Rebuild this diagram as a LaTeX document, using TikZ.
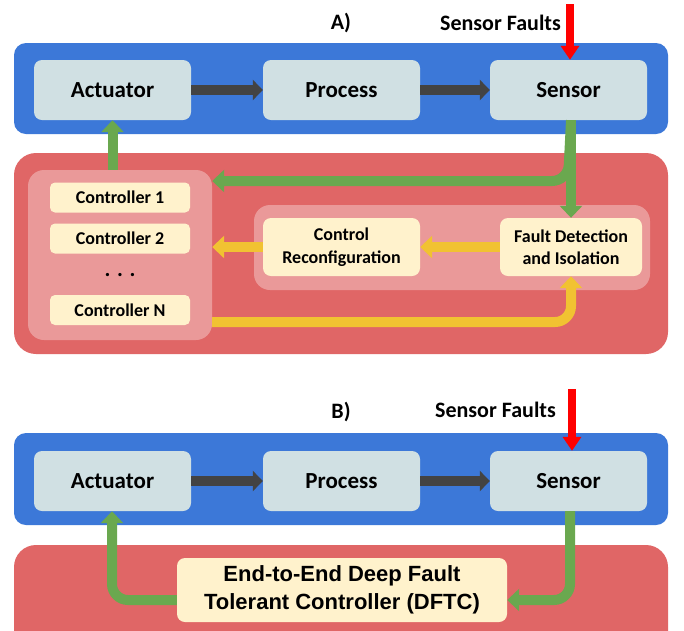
\documentclass[tikz,border=0pt]{standalone}
\usepackage{fontspec}
\setmainfont{Carlito}
\newfontfamily\arialfont{Liberation Sans}
\usetikzlibrary{arrows.meta}
\definecolor{panelblue}{HTML}{3C78D8}
\definecolor{panelred}{HTML}{E06666}
\definecolor{grouppink}{HTML}{EA9999}
\definecolor{boxgray}{HTML}{D0E0E3}
\definecolor{boxyellow}{HTML}{FFF2CC}
\definecolor{arrgreen}{HTML}{6AA84F}
\definecolor{arryellow}{HTML}{F1C232}
\definecolor{arrdark}{HTML}{434343}
\definecolor{arrred}{HTML}{FF0000}
\begin{document}
\begin{tikzpicture}[x=1pt,y=-1pt,
  bluepanel/.style={fill=panelblue, draw=none, rounded corners=12pt, minimum width=654pt, inner sep=0pt},
  redpanel/.style={fill=panelred, draw=none, rounded corners=22pt, minimum width=654pt, inner sep=0pt},
  grp/.style={fill=grouppink, draw=none, rounded corners=16pt, inner sep=0pt},
  procbox/.style={fill=boxgray, draw=none, rounded corners=8pt, minimum width=157pt, minimum height=60pt,
    font=\bfseries\fontsize{23}{25}\selectfont, inner sep=0pt},
  ctrlbox/.style={fill=boxyellow, draw=none, rounded corners=5pt, minimum width=140pt, minimum height=30pt,
    font=\bfseries\fontsize{18}{20}\selectfont, inner sep=0pt},
  ybox/.style={fill=boxyellow, draw=none, rounded corners=8pt, minimum height=58pt,
    font=\bfseries\fontsize{18}{22.5}\selectfont, align=center, inner sep=0pt},
  title/.style={font=\bfseries\fontsize{22}{24}\selectfont, inner sep=0pt},
  darrow/.style={draw=arrdark, line width=10pt, -{Triangle[width=20pt,length=10pt]}},
  garrow/.style={draw=arrgreen, line width=10pt, -{Triangle[width=22pt,length=12pt]}},
  yarrow/.style={draw=arryellow, line width=10pt, -{Triangle[width=22pt,length=12pt]}},
  rarrow/.style={draw=arrred, line width=8pt, -{Triangle[width=18pt,length=14pt]}},
]
\useasboundingbox (0,0) rectangle (684,630);
\fill[white] (0,0) rectangle (684,630);

% ---------------- Part A ----------------
\node[title] (labA) at (341,23) {A)};
\node[title, anchor=east] (sfA) at (561,23) {Sensor Faults};
\node[bluepanel, minimum height=91pt] (bpA) at (341,88.5) {};
\node[procbox] (actA) at (112.5,90) {Actuator};
\node[procbox] (proA) at (341.5,90) {Process};
\node[procbox] (senA) at (568.5,90) {Sensor};
\draw[darrow] (actA.east) -- (proA.west);
\draw[darrow] (proA.east) -- (senA.west);
\coordinate (rtopA) at (570,4);
\draw[rarrow] (rtopA) -- (senA.north -| rtopA);

\node[redpanel, minimum height=201pt] (rpA) at (341,253.5) {};
\node[grp, minimum width=184pt, minimum height=170pt] (cgrp) at (120,255) {};
\node[grp, minimum width=396pt, minimum height=85pt] (fgrp) at (452,247.5) {};
\node[ctrlbox] (c1) at (120,197.5) {Controller 1};
\node[ctrlbox] (c2) at (120,238.5) {Controller 2};
\node[font=\bfseries\fontsize{22}{24}\selectfont, inner sep=0pt] (dots) at (120,275) {. . .};
\node[ctrlbox] (cN) at (120,310) {Controller N};
\node[ybox, minimum width=157pt] (cr) at (341.5,247) {Control\\Reconfiguration};
\node[ybox, minimum width=142pt] (fdi) at (571,247) {Fault Detection\\and Isolation};

\draw[garrow] (cgrp.north -| actA.south) -- (actA.south);
\draw[garrow] (senA.south -| fdi.north) -- (fdi.north);
\coordinate (brA) at (568,181);
\draw[garrow, rounded corners=16pt] (senA.south -| fdi.north) -- (brA) -- (brA -| cgrp.east);
\draw[yarrow] (fdi.west) -- (cr.west -| cr.east);
\draw[yarrow] (cr.west) -- (cr.west -| cgrp.east);
\coordinate (ybA) at (571,322);
\draw[yarrow, rounded corners=16pt] (ybA -| cgrp.east) -- (ybA) -- (fdi.south);

% ---------------- Part B ----------------
\node[title] (labB) at (341,412) {B)};
\node[title, anchor=east] (sfB) at (556,410) {Sensor Faults};
\node[bluepanel, minimum height=92pt] (bpB) at (341,479) {};
\node[procbox] (actB) at (112.5,481) {Actuator};
\node[procbox] (proB) at (341.5,481) {Process};
\node[procbox] (senB) at (568.5,481) {Sensor};
\draw[darrow] (actB.east) -- (proB.west);
\draw[darrow] (proB.east) -- (senB.west);
\coordinate (rtopB) at (572,389);
\draw[rarrow] (rtopB) -- (senB.north -| rtopB);

\node[redpanel, minimum height=110pt] (rpB) at (341,600) {};
\node[fill=boxyellow, draw=none, rounded corners=8pt, minimum width=330pt, minimum height=64pt,
  font=\arialfont\bfseries\fontsize{22}{28}\selectfont, align=center, inner sep=0pt]
  (dftc) at (342,590) {End-to-End Deep Fault\\Tolerant Controller (DFTC)};
\coordinate (gbR) at (570,600);
\coordinate (gbL) at (112,600);
\draw[garrow, rounded corners=16pt] (senB.south -| gbR) -- (gbR) -- (gbR -| dftc.east);
\draw[garrow, rounded corners=16pt] (gbL -| dftc.west) -- (gbL) -- (actB.south -| gbL);
\end{tikzpicture}
\end{document}
